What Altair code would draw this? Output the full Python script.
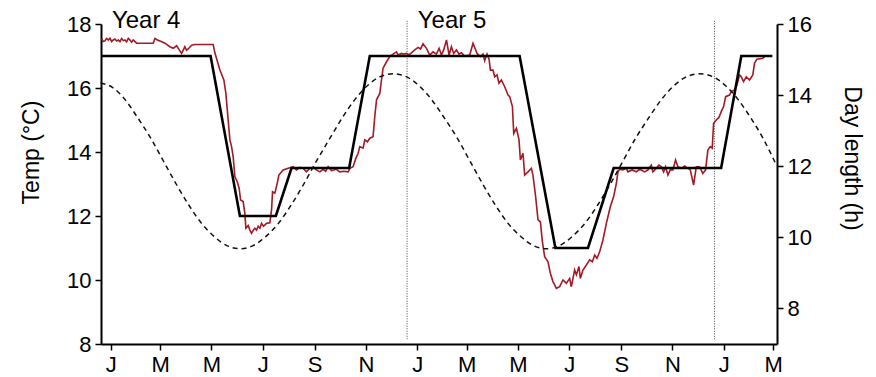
import altair as alt
import pandas as pd

FONT = "Liberation Sans"

# x positions are day numbers counted from 1 January of Year 4
tick_days = [0, 59, 120, 181, 243, 304, 365, 424, 485, 546, 608, 669, 730, 789]
tick_labels = ["J", "M", "M", "J", "S", "N", "J", "M", "M", "J", "S", "N", "J", "M"]

# set-point temperature (black step line)
setpoint_day = [-11.5, 119, 153.9, 196.7, 215.4, 284, 308.6, 487, 529.6, 568.4, 599, 727, 751, 788]
setpoint_temp = [17, 17, 12, 12, 13.5, 13.5, 17, 17, 11, 11, 13.5, 13.5, 17, 17]

# measured temperature (red line)
measured_day = [
    -10.7, -8.8, -6.8, -4.8, -2.8, -0.8, 1.2, 3.1, 5.1, 7.1, 9.1, 11.1, 13.1, 15.0, 17.0, 19.0,
    21.0, 23.0, 25.0, 26.9, 30.9, 40.8, 50.7, 52.7, 55.7, 58.7, 61.6, 64.6, 70.6, 74.5, 78.5,
    81.5, 84.5, 88.4, 90.3, 92.3, 96.4, 100.3, 122.1,
    124.1, 128.0, 130.1, 134.8, 137.2, 139.9, 142.0, 144.0, 145.9, 147.9, 150.7, 153.0, 154.7,
    157.8, 159.8, 161.0, 163.8, 165.8, 167.8, 169.7, 171.7, 173.7, 175.7, 177.7, 179.7, 182.0,
    185.6, 189.6, 191.6, 192.8, 195.5, 198.3, 200.3, 205.4, 211.4, 215.4, 217.3, 221.3, 225.2,
    229.2, 233.2, 237.2, 241.1, 245.1, 249.1, 253.0, 256.0, 259.0, 263.0, 268.9, 272.9, 277.8,
    282.8, 284.8, 288.7, 291.9, 294.7, 296.7, 300.6, 302.6, 305.8, 308.6, 312.5, 314.5, 316.6,
    320.5, 322.5, 324.4, 328.5, 332.4, 336.3, 340.4, 342.3, 346.3, 348.2, 352.3, 355.2, 358.2,
    362.1, 366.1, 369.0, 372.0, 376.1, 380.0, 383.9, 387.9, 391.1, 393.9, 396.6, 399.9, 403.0,
    405.8, 408.5, 411.8, 414.8, 417.7, 421.6, 427.6, 431.5, 436.3, 440.3, 443.4, 445.4, 448.2,
    450.6, 452.2, 455.3, 457.3, 460.1, 462.4, 465.3, 469.2, 473.2, 475.2, 478.4, 480.0, 483.2,
    486.3, 487.9, 491.0, 493.0, 497.0, 501.0, 502.9, 506.1, 508.9, 511.7, 514.1, 516.8, 520.8,
    523.6, 526.7, 530.8, 534.7, 538.6, 542.7, 546.6, 548.6, 552.5, 554.6, 557.7, 559.3, 562.4,
    566.5, 570.4, 573.6, 576.4, 579.1, 582.3, 586.2, 590.3, 595.0, 598.9, 602.2, 604.1, 606.1,
    610.1, 614.1, 616.0, 621.0, 626.0, 629.9, 635.9, 639.8, 643.8, 645.7, 649.8, 652.9, 655.7,
    658.5, 660.8, 663.6, 666.4, 669.5, 672.7, 675.5, 679.5, 683.5, 687.4, 690.2, 694.2, 697.4,
    701.3, 705.2, 708.4, 711.2, 714.0, 716.4, 718.0, 721.2, 724.3, 727.1, 729.9, 732.3, 737.0,
    739.0, 742.9, 745.7, 748.9, 750.9, 753.7, 756.9, 760.8, 764.7, 766.7, 769.5, 776.6, 778.6,
]
measured_temp = [
    17.53, 17.45, 17.47, 17.55, 17.50, 17.56, 17.45, 17.50, 17.53, 17.47, 17.50, 17.45, 17.55, 17.48, 17.50, 17.44,
    17.55, 17.50, 17.43, 17.50, 17.40, 17.40, 17.40, 17.55, 17.50, 17.47, 17.44, 17.40, 17.29, 17.24, 17.32,
    17.20, 17.08, 17.29, 17.18, 17.22, 17.34, 17.36, 17.36,
    17.10, 16.75, 16.56, 16.25, 15.83, 15.00, 14.38, 14.17, 13.85, 13.23, 13.07, 12.87, 12.50,
    12.45, 12.08, 11.62, 11.70, 11.56, 11.46, 11.55, 11.62, 11.56, 11.68, 11.62, 11.77, 11.68,
    11.77, 11.79, 12.19, 12.76, 12.71, 13.02, 13.28, 13.44, 13.49, 13.52, 13.54, 13.44, 13.52,
    13.49, 13.38, 13.49, 13.52, 13.44, 13.38, 13.46, 13.40, 13.54, 13.42, 13.46, 13.38, 13.40,
    13.38, 13.49, 13.54, 13.80, 13.96, 14.17, 14.12, 14.38, 14.32, 14.43, 14.48, 15.10, 15.63,
    15.83, 16.25, 16.62, 16.82, 16.98, 17.06, 17.13, 17.03, 17.08, 17.06, 17.08, 17.04, 17.10,
    17.19, 17.27, 17.22, 17.38, 17.24, 17.03, 17.13, 17.06, 17.24, 17.03, 17.19, 17.50, 17.03,
    17.29, 17.08, 17.19, 17.06, 17.10, 17.00, 17.03, 17.40, 17.08, 16.98, 17.06, 16.85, 17.06,
    16.90, 16.56, 16.56, 16.35, 16.41, 16.15, 16.25, 16.04, 15.78, 15.73, 15.42, 14.58, 14.74,
    14.38, 13.75, 13.96, 13.28, 13.38, 13.49, 13.28, 12.60, 11.88, 11.82, 11.20, 10.73, 10.57,
    10.21, 9.95, 9.74, 9.79, 10.00, 9.90, 10.05, 9.79, 10.31, 10.16, 10.42, 10.05, 10.31,
    10.47, 10.63, 10.57, 10.78, 10.68, 10.88, 11.25, 11.77, 12.29, 12.60, 13.02, 13.38, 13.46,
    13.44, 13.49, 13.38, 13.44, 13.38, 13.46, 13.38, 13.44, 13.59, 13.38, 13.49, 13.59, 13.54,
    13.38, 13.54, 13.28, 13.44, 13.44, 13.75, 13.54, 13.49, 13.56, 13.49, 13.44, 12.97, 13.54,
    13.54, 13.33, 13.44, 14.06, 14.17, 14.12, 14.90, 15.00, 15.08, 15.26, 15.42, 15.73, 15.78,
    15.89, 15.94, 16.09, 16.41, 16.35, 16.20, 16.35, 16.25, 16.41, 16.77, 16.90, 16.93, 16.98,
]

# day length (dashed line, right axis)
daylength_day = [-12, 2, 17, 32, 48, 63, 78, 93, 108, 124, 139, 154, 169, 184, 200, 215, 230, 245,
                 261, 276, 291, 306, 321, 337, 352, 367, 382, 397, 413, 428, 443, 458, 473, 489,
                 504, 519, 534, 549, 565, 580, 595, 610, 625, 641, 656, 671, 686, 701, 717, 732,
                 747, 762, 777, 793]
daylength_h = [14.34, 14.22, 13.88, 13.37, 12.78, 12.14, 11.50, 10.91, 10.40, 10.01, 9.76, 9.68,
               9.76, 10.01, 10.40, 10.91, 11.50, 12.14, 12.78, 13.37, 13.88, 14.27, 14.52, 14.60,
               14.52, 14.27, 13.88, 13.37, 12.78, 12.14, 11.50, 10.91, 10.40, 10.01, 9.76, 9.68,
               9.76, 10.01, 10.40, 10.91, 11.50, 12.14, 12.78, 13.37, 13.88, 14.27, 14.52, 14.60,
               14.52, 14.27, 13.88, 13.37, 12.78, 12.02]

year_day = [1.5, 365.7]
year_label = ["Year 4", "Year 5"]
solstice_day = [353, 719]

setpoint = pd.DataFrame({"day": setpoint_day, "temp": setpoint_temp})
measured = pd.DataFrame({"day": measured_day, "temp": measured_temp})
daylen = pd.DataFrame({"day": daylength_day, "hours": daylength_h})
years = pd.DataFrame({"day": year_day, "label": year_label})
sol = pd.DataFrame({"day": solstice_day})

label_expr = "[" + ",".join("'%s'" % s for s in tick_labels) + "][indexof([" + \
    ",".join(str(d) for d in tick_days) + "], datum.value)]"

xscale = alt.Scale(domain=[-11.5, 793.5], nice=False, zero=False)
tscale = alt.Scale(domain=[8, 18], nice=False, zero=False)
hscale = alt.Scale(domain=[7, 16], nice=False, zero=False)

common_axis = dict(grid=False, domainColor="black", domainWidth=2, tickColor="black",
                   tickWidth=1.5, tickSize=6, labelFont=FONT, labelFontSize=22,
                   labelColor="black", titleFont=FONT, titleColor="black",
                   titleFontWeight="normal")

xenc = alt.X("day:Q", scale=xscale,
             axis=alt.Axis(values=tick_days, labelExpr=label_expr, title=None,
                           labelPadding=4, **common_axis))

left_axis = alt.Axis(values=[8, 10, 12, 14, 16, 18], title="Temp (°C)", titleFontSize=23,
                     titleX=-70, titleY=128, titleAngle=270, titleAlign="center",
                     titleBaseline="middle", labelPadding=4, **common_axis)
right_axis = alt.Axis(values=[8, 10, 12, 14, 16], title="Day length (h)", titleFontSize=23,
                      orient="right", titleX=74, titleY=134, titleAngle=90,
                      titleAlign="center", titleBaseline="middle", labelPadding=4,
                      **common_axis)

red = alt.Chart(measured).mark_line(color="#a31a26", strokeWidth=1.6).encode(
    x=xenc, y=alt.Y("temp:Q", scale=tscale, axis=left_axis), order="day:Q")

black = alt.Chart(setpoint).mark_line(color="black", strokeWidth=2.6).encode(
    x=alt.X("day:Q", scale=xscale), y=alt.Y("temp:Q", scale=tscale), order="day:Q")

rules = alt.Chart(sol).mark_rule(color="#444", strokeWidth=1, strokeDash=[1, 1.5]).encode(
    x=alt.X("day:Q", scale=xscale), y=alt.YDatum(18.1, scale=tscale), y2=alt.Y2Datum(8.15))

text = alt.Chart(years).mark_text(align="left", baseline="alphabetic", font=FONT,
                                  fontSize=24, color="black").encode(
    x=alt.X("day:Q", scale=xscale), y=alt.YDatum(17.88, scale=tscale), text="label:N")

dashed = alt.Chart(daylen).mark_line(color="#111", strokeWidth=1.5, strokeDash=[5, 4],
                                     interpolate="monotone").encode(
    x=alt.X("day:Q", scale=xscale), y=alt.Y("hours:Q", scale=hscale, axis=right_axis),
    order="day:Q")

temp_layer = alt.layer(rules, red, black, text)

chart = alt.layer(temp_layer, dashed).resolve_scale(y="independent").properties(
    width=676, height=320,
    background="white",
    autosize=alt.AutoSizeParams(type="none"),
    padding={"left": 93, "top": 16, "right": 91, "bottom": 35},
).configure_view(stroke=None)

chart.save("out.html", embed_options={"renderer": "svg", "actions": False})
